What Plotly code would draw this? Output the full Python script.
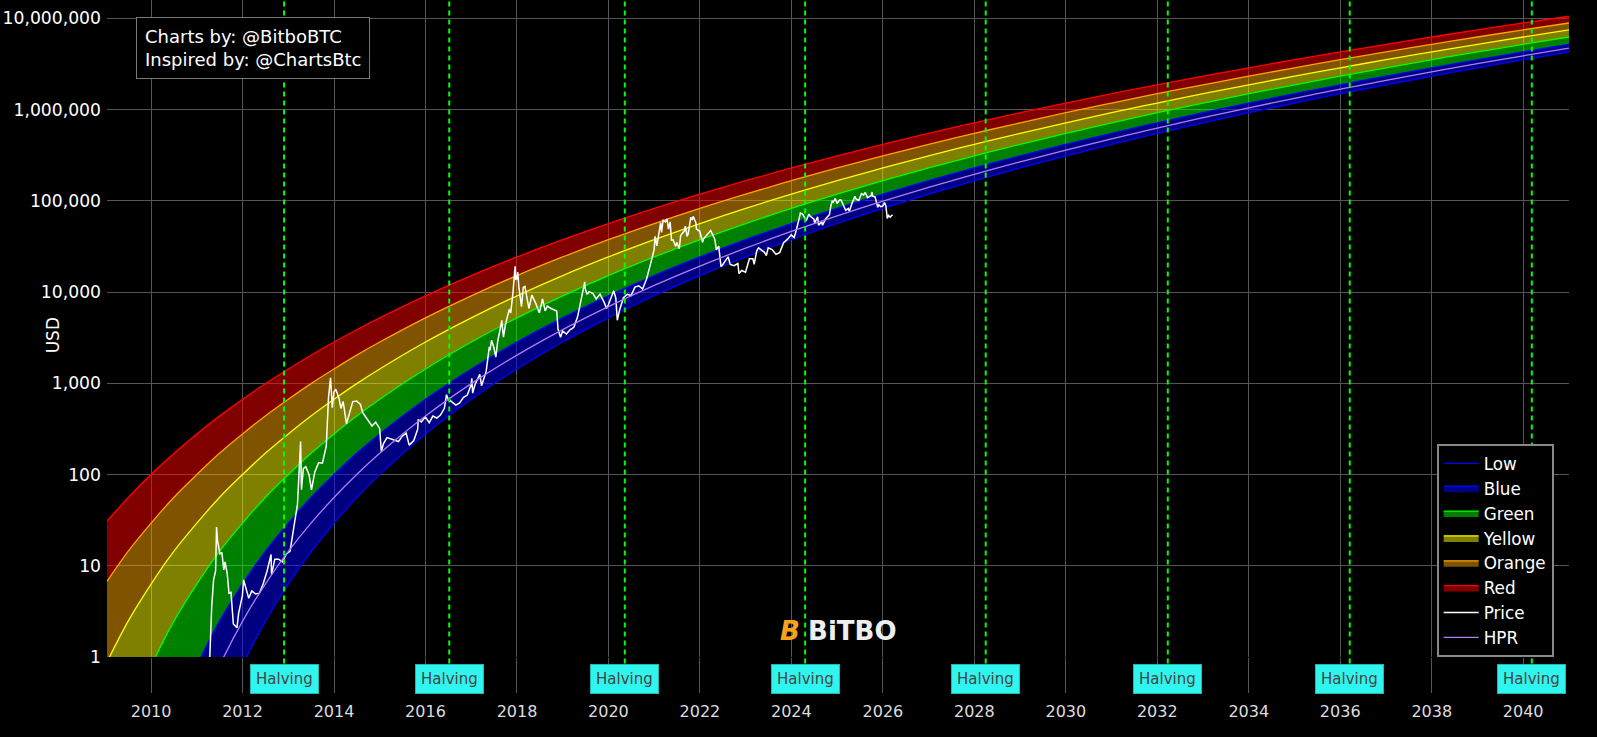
import plotly.graph_objects as go

# ---- data ----
band_dates = ["2009-01-14", "2009-07-01", "2010-01-01", "2010-07-01", "2011-01-01", "2011-07-01",
              "2012-01-01", "2012-07-01", "2013-01-01", "2013-07-01", "2014-01-01", "2014-07-01",
              "2015-01-01", "2016-01-01", "2017-01-01", "2018-01-01", "2019-01-01", "2020-01-01",
              "2021-01-01", "2022-01-01", "2023-01-01", "2024-01-01", "2025-01-01", "2026-01-01",
              "2027-01-01", "2028-01-01", "2029-01-01", "2030-01-01", "2031-01-01", "2032-01-01",
              "2033-01-01", "2034-01-01", "2035-01-01", "2036-01-01", "2037-01-01", "2038-01-01",
              "2039-01-01", "2040-01-01", "2041-01-01"]

low_values = [1e-08, 1e-08, 4.115e-05, 0.002861, 0.03529, 0.203, 0.8056, 2.451, 6.339, 14.24, 29.44,
              55.75, 100.3, 278.2, 668.3, 1435, 2830, 5213, 9098, 15130, 24210, 37450, 56320, 82480,
              118100, 165800, 228800, 310500, 415300, 548000, 715100, 922200, 1177000, 1489000,
              1866000, 2322000, 2866000, 3513000, 4277000]
blue_values = [6.4e-05, 0.002939, 0.03474, 0.2057, 0.7981, 2.459, 6.297, 14.34, 29.28, 56.05, 99.86,
               170.7, 278.4, 667.1, 1435, 2831, 5215, 9087, 15140, 24210, 37450, 56270, 82500, 118100,
               165800, 228700, 310600, 415300, 548100, 714700, 922300, 1177000, 1489000, 1866000,
               2322000, 2866000, 3513000, 4277000, 5179000]
green_values = [0.041, 0.2057, 0.7981, 2.459, 6.297, 14.34, 29.28, 56.05, 99.86, 170.7, 278.4, 437.6,
                667.1, 1435, 2831, 5215, 9087, 15140, 24210, 37450, 56270, 82500, 118100, 165800,
                228700, 310600, 415300, 548100, 714700, 922300, 1177000, 1489000, 1866000, 2322000,
                2866000, 3513000, 4277000, 5179000, 6230000]
yellow_values = [0.883, 2.459, 6.297, 14.34, 29.28, 56.05, 99.86, 170.7, 278.4, 437.6, 667.1, 991.2,
                 1435, 2831, 5215, 9087, 15140, 24210, 37450, 56270, 82500, 118100, 165800, 228700,
                 310600, 415300, 548100, 714700, 922300, 1177000, 1489000, 1866000, 2322000, 2866000,
                 3513000, 4277000, 5179000, 6230000, 7455000]
orange_values = [6.73, 14.34, 29.28, 56.05, 99.86, 170.7, 278.4, 437.6, 667.1, 991.2, 1435, 2034, 2831,
                 5215, 9087, 15140, 24210, 37450, 56270, 82500, 118100, 165800, 228700, 310600, 415300,
                 548100, 714700, 922300, 1177000, 1489000, 1866000, 2322000, 2866000, 3513000, 4277000,
                 5179000, 6230000, 7455000, 8875000]
red_values = [30.91, 55.79, 100.4, 170, 278.4, 436.1, 667.1, 988.3, 1435, 2029, 2831, 3862, 5215, 9087,
              15140, 24210, 37450, 56270, 82500, 118100, 165800, 228700, 310600, 415300, 548100, 714700,
              922300, 1177000, 1489000, 1866000, 2322000, 2866000, 3513000, 4277000, 5179000, 6230000,
              7455000, 8875000, 10520000]
hpr_values = [1.577e-12, 3.923e-05, 0.002939, 0.03474, 0.2057, 0.7981, 2.459, 6.297, 14.34, 29.28, 56.05,
              99.86, 170.7, 437.6, 991.2, 2034, 3871, 6926, 11800, 19230, 30230, 46060, 68370, 98980,
              140300, 195100, 267100, 359700, 477800, 626700, 813200, 1043000, 1325000, 1669000,
              2084000, 2582000, 3176000, 3879000, 4711000]

price_dates = ["2011-03-01","2011-04-15","2011-04-30","2011-05-15","2011-05-31","2011-06-08","2011-06-15","2011-06-25","2011-07-05","2011-07-20","2011-08-05","2011-08-15","2011-09-01","2011-09-15","2011-10-01","2011-10-20","2011-11-18","2011-12-01","2011-12-31",
"2012-01-10","2012-01-31","2012-02-20","2012-03-15","2012-04-15","2012-05-15","2012-06-15","2012-07-15","2012-08-16","2012-08-20","2012-09-15","2012-10-15","2012-11-15","2012-12-15",
"2013-01-15","2013-02-15","2013-03-15","2013-04-09","2013-04-16","2013-05-01","2013-05-20","2013-06-15","2013-07-05","2013-07-31","2013-08-31","2013-09-30","2013-10-31","2013-11-18","2013-11-30","2013-12-04","2013-12-18","2013-12-31",
"2014-01-15","2014-02-10","2014-02-25","2014-03-15","2014-04-10","2014-04-30","2014-05-31","2014-06-30","2014-07-31","2014-08-18","2014-09-30","2014-10-31","2014-11-30","2014-12-31",
"2015-01-14","2015-01-31","2015-02-28","2015-03-31","2015-04-30","2015-05-31","2015-06-30","2015-07-31","2015-08-24","2015-09-30","2015-10-31","2015-11-04","2015-11-30","2015-12-31",
"2016-01-31","2016-02-29","2016-03-31","2016-04-30","2016-05-31","2016-06-17","2016-06-30","2016-07-31","2016-08-31","2016-09-30","2016-10-31","2016-11-30","2016-12-31",
"2017-01-05","2017-01-12","2017-01-31","2017-02-28","2017-03-10","2017-03-24","2017-04-30","2017-05-25","2017-05-31","2017-06-12","2017-06-30","2017-07-16","2017-07-31","2017-08-31","2017-09-01","2017-09-15","2017-09-30","2017-10-31","2017-11-12","2017-11-30","2017-12-17","2017-12-22","2017-12-31",
"2018-01-07","2018-01-17","2018-02-06","2018-02-20","2018-03-05","2018-03-31","2018-04-06","2018-04-30","2018-05-31","2018-06-29","2018-07-24","2018-08-14","2018-08-31","2018-09-30","2018-10-31","2018-11-14","2018-11-25","2018-12-15","2018-12-31",
"2019-01-31","2019-02-28","2019-03-31","2019-04-30","2019-05-31","2019-06-26","2019-06-30","2019-07-16","2019-07-31","2019-08-31","2019-09-25","2019-10-26","2019-11-30","2019-12-17","2019-12-31",
"2020-01-31","2020-02-13","2020-02-29","2020-03-12","2020-03-31","2020-04-30","2020-05-31","2020-06-30","2020-07-31","2020-08-31","2020-09-30","2020-10-31","2020-11-30","2020-12-31",
"2021-01-08","2021-01-22","2021-02-21","2021-02-28","2021-03-13","2021-03-31","2021-04-13","2021-04-25","2021-05-08","2021-05-19","2021-05-31","2021-06-21","2021-06-30","2021-07-20","2021-07-31","2021-08-31","2021-09-06","2021-09-21","2021-09-30","2021-10-20","2021-10-31","2021-11-08","2021-11-30","2021-12-04","2021-12-31",
"2022-01-22","2022-01-31","2022-02-28","2022-03-28","2022-04-30","2022-05-12","2022-05-31","2022-06-18","2022-06-30","2022-07-31","2022-08-14","2022-08-31","2022-09-30","2022-10-31","2022-11-09","2022-11-30","2022-12-31",
"2023-01-31","2023-02-28","2023-03-10","2023-03-31","2023-04-14","2023-04-30","2023-05-31","2023-06-15","2023-06-30","2023-07-31","2023-08-31","2023-09-30","2023-10-31","2023-11-30","2023-12-31",
"2024-01-23","2024-01-31","2024-02-29","2024-03-13","2024-03-31","2024-04-30","2024-05-20","2024-05-31","2024-06-30","2024-07-05","2024-07-29","2024-08-05","2024-08-31","2024-09-06","2024-09-30","2024-10-31","2024-11-12","2024-11-22","2024-11-30","2024-12-17","2024-12-31",
"2025-01-20","2025-01-31","2025-02-28","2025-03-10","2025-03-31","2025-04-08","2025-04-30","2025-05-22","2025-05-31","2025-06-22","2025-06-30","2025-07-14","2025-07-31","2025-08-13","2025-08-31","2025-09-30","2025-10-06","2025-10-10","2025-10-31","2025-11-21","2025-11-30","2025-12-15","2025-12-31",
"2026-01-14","2026-01-25","2026-02-05","2026-02-15","2026-02-28","2026-03-10","2026-03-20"]
price_values = [0.9,1.0,3.5,7,8.7,26.5,19,16.5,13.5,14,9,11,8.2,5,5.1,2.3,2.1,3,4.7,
7,5.5,4.4,5.3,4.9,5.0,6.4,8.7,13.3,8,11.8,11.8,11,13.4,
14.5,27,47,230,68,116,122,100,68,106,135,133,204,700,1130,1150,540,800,
860,680,530,630,360,445,630,640,585,475,385,340,375,320,
178,218,254,244,236,230,263,284,210,236,314,400,377,430,
369,437,416,448,531,750,673,624,575,609,700,742,963,
1130,780,970,1190,1250,940,1350,2500,2300,2960,2480,1930,2875,4700,4900,3200,4340,6450,5900,9900,19100,13800,13900,
16500,11000,6900,11200,11500,6900,6600,9240,7500,5900,8400,6200,7000,6600,6300,6200,3900,3200,3740,
3460,3850,4100,5350,8570,12900,10800,9400,10100,9600,8400,9500,7600,6600,7200,
9350,10300,8600,4900,6400,8650,9450,9140,11300,11700,10780,13800,19700,29000,
40700,32000,57500,45000,61200,58800,63500,49000,58800,37000,37300,31600,35000,29800,41600,47100,52700,40700,43800,66000,61300,67500,57000,49000,46300,
35000,38500,43200,47100,37700,28900,31800,19000,19800,23300,24300,20000,19400,20500,15900,17200,16500,
23100,23100,20100,28500,30500,29200,27200,25100,30500,29200,25900,27000,34600,37700,42300,
39500,42600,61200,73100,71300,60600,71400,67500,62700,56700,66800,54000,58900,53900,63300,70200,88700,98900,96400,106100,93400,
102000,102400,84400,78500,82500,76300,94200,111700,104600,100900,107100,119800,115700,123300,108200,114000,124700,113000,109500,85000,90400,86000,87500,
95500,88000,64000,69000,66000,68500,70000]

halving_dates = ["2012-11-28", "2016-07-09", "2020-05-11", "2024-04-20",
                 "2028-04-01", "2032-03-25", "2036-03-17", "2040-03-10"]
y_tick_vals = [1, 10, 100, 1000, 10000, 100000, 1000000, 10000000]
y_tick_text = ["1", "10", "100", "1,000", "10,000", "100,000", "1,000,000", "10,000,000"]

bands = [("Low", low_values, "#0000ff", None),
         ("Blue", blue_values, "#0000ff", "rgba(0,0,255,0.5)"),
         ("Green", green_values, "#00ff00", "rgba(0,255,0,0.5)"),
         ("Yellow", yellow_values, "#ffff00", "rgba(255,255,0,0.5)"),
         ("Orange", orange_values, "#ffa500", "rgba(255,165,0,0.5)"),
         ("Red", red_values, "#ff0000", "rgba(255,0,0,0.5)")]

fig = go.Figure()
for name, vals, col, fc in bands:
    fig.add_trace(go.Scatter(x=band_dates, y=vals, name=name, mode="lines",
                             line=dict(color=col, width=1.3, shape="spline"),
                             fill="tonexty" if fc else None, fillcolor=fc))
fig.add_trace(go.Scatter(x=price_dates, y=price_values, name="Price", mode="lines",
                         line=dict(color="white", width=1.5)))
fig.add_trace(go.Scatter(x=band_dates, y=hpr_values, name="HPR", mode="lines",
                         line=dict(color="#b07cf5", width=1.3, shape="spline")))

for hd in halving_dates:
    fig.add_shape(type="line", xref="x", yref="paper", x0=hd, x1=hd, y0=-0.01, y1=1,
                  line=dict(color="#00ff00", width=2, dash="5px,4px"))
    fig.add_annotation(x=hd, xref="x", y=-0.0335, yref="paper", text="Halving", showarrow=False,
                       font=dict(size=15, color="#444444", family="DejaVu Sans"),
                       bgcolor="#30f5ee", bordercolor="#20b8b0", borderwidth=1, borderpad=5,
                       xanchor="center", yanchor="middle")

fig.add_annotation(x=0.0196, y=0.974, xref="paper", yref="paper", xanchor="left", yanchor="top",
                   align="left", showarrow=False,
                   text="Charts by: @BitboBTC<br>Inspired by: @ChartsBtc",
                   font=dict(size=18, color="white"), bgcolor="black",
                   bordercolor="#777777", borderwidth=1, borderpad=8)
fig.add_annotation(x=0.5, y=0.0396, xref="paper", yref="paper", xanchor="center", yanchor="middle",
                   showarrow=False,
                   text='<b><i><span style="color:#f5a21c">B</span></i></b> <b>BiTBO</b>',
                   font=dict(size=26, color="#eeeeee"))
fig.add_annotation(x=-0.0372, y=0.489, xref="paper", yref="paper", xanchor="center", yanchor="middle",
                   showarrow=False, text="USD", textangle=-90, font=dict(size=17, color="white"))

fig.update_layout(
    width=1597, height=737,
    paper_bgcolor="black", plot_bgcolor="black",
    font=dict(family="DejaVu Sans", color="white", size=16),
    margin=dict(l=107, r=28, t=0, b=80, autoexpand=False),
    showlegend=True,
    legend=dict(x=0.9895, xanchor="right", y=0, yanchor="bottom", bgcolor="black",
                traceorder="normal", itemwidth=35,
                bordercolor="#888888", borderwidth=2, font=dict(size=16.8, color="white")),
    xaxis=dict(type="date", range=["2009-01-14", "2041-01-01"], dtick="M24", tick0="2010-01-01",
               tickformat="%Y", showgrid=True, gridcolor="#555555", gridwidth=1,
               ticks="outside", ticklen=35, tickcolor="#555555", ticklabelstandoff=5,
               tickfont=dict(size=16, color="#dddddd"), zeroline=False, showline=False,
               automargin=False),
    yaxis=dict(type="log", range=[0, 7.2], tickvals=y_tick_vals, ticktext=y_tick_text,
               showgrid=True, gridcolor="#555555", gridwidth=1, tickfont=dict(size=17.2, color="white"),
               ticklabelstandoff=5, zeroline=False, showline=False, automargin=False),
)
fig.write_html("out.html", config={"displayModeBar": False},
               post_script="document.body.style.margin='0';document.body.style.padding='0';"
                           "document.body.style.overflow='hidden';")
